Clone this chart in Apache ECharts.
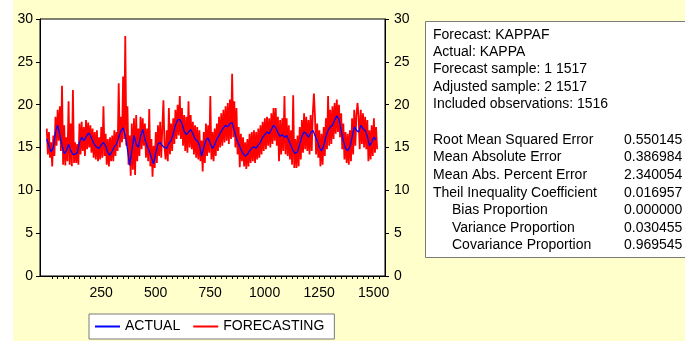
<!DOCTYPE html>
<html>
<head>
<meta charset="utf-8">
<script src="https://cdn.jsdelivr.net/npm/echarts@6/dist/echarts.min.js"></script>
<style>
  html, body { margin: 0; padding: 0; background: #fff; }
  #chart { width: 685px; height: 346px; }
</style>
</head>
<body>
<div id="chart"></div>
<script>
// observation spacing of the typed samples
const actualStep = 10
const forecastStep = 5

// ACTUAL (KAPPA), one value every 10 observations starting at obs 1
const actual = [
  16.0, 15.2, 14.5, 15.0, 16.8, 17.6, 16.5, 15.2, 14.3, 14.6,
  15.4, 14.6, 14.2, 14.2, 14.4, 15.6, 16.2, 15.8, 16.2, 16.7,
  16.4, 15.8, 15.3, 15.0, 14.9, 15.3, 15.6, 15.2, 14.4, 14.1,
  14.6, 15.1, 15.4, 16.2, 16.9, 17.3, 16.4, 14.8, 12.9, 14.6,
  16.4, 15.4, 15.0, 16.3, 17.1, 16.0, 15.2, 14.6, 13.8, 13.1,
  14.4, 15.4, 15.6, 15.2, 15.0, 14.9, 15.5, 15.8, 16.6, 17.6,
  18.2, 18.3, 17.8, 16.9, 16.5, 16.8, 17.1, 16.6, 16.0, 15.8,
  15.3, 14.0, 15.0, 15.9, 16.1, 15.4, 14.9, 15.3, 16.0, 16.4,
  16.9, 17.3, 17.6, 17.4, 17.8, 17.9, 17.0, 16.0, 15.4, 14.8,
  14.3, 14.0, 14.2, 14.6, 14.9, 15.1, 14.9, 15.3, 15.6, 16.2,
  16.5, 16.8, 16.6, 17.1, 17.6, 17.3, 16.7, 16.3, 16.5, 16.2,
  16.4, 15.8, 15.2, 14.6, 14.3, 14.5, 15.4, 16.3, 16.8, 16.6,
  16.2, 16.7, 17.0, 16.4, 15.8, 15.0, 14.6, 15.2, 16.3, 17.0,
  17.4, 17.6, 18.2, 18.7, 18.3, 17.0, 15.8, 14.9, 14.6, 15.1,
  16.2, 17.4, 17.0, 16.8, 17.6, 17.2, 17.0, 16.3, 15.2, 15.6,
  16.2, 15.9
]

// FORECASTING (KAPPAF), one value every 5 observations starting at obs 1
const forecasting = [
  17.2, 14.2, 16.8, 13.8, 15.6, 12.8, 16.4, 14.0, 18.6, 15.2,
  19.4, 15.8, 19.8, 14.6, 22.2, 13.0, 17.6, 12.9, 16.2, 13.4,
  20.4, 13.0, 17.8, 12.8, 21.7, 13.2, 15.6, 13.2, 15.4, 13.0,
  17.8, 14.2, 18.0, 14.6, 17.4, 14.0, 18.2, 14.8, 17.9, 15.0,
  17.6, 14.4, 17.2, 13.8, 16.8, 13.6, 17.0, 13.4, 16.2, 13.6,
  17.4, 13.8, 19.8, 14.0, 16.6, 13.0, 16.0, 12.8, 16.2, 13.4,
  16.4, 13.4, 17.0, 14.0, 16.8, 14.6, 22.5, 15.0, 18.6, 15.6,
  23.3, 16.0, 28.0, 15.2, 19.8, 13.0, 16.4, 11.7, 17.8, 12.4,
  18.4, 11.8, 18.8, 13.4, 17.2, 14.0, 18.6, 14.8, 18.4, 15.2,
  17.8, 13.8, 17.2, 13.4, 19.5, 12.8, 16.0, 11.6, 15.2, 12.6,
  16.8, 13.2, 17.6, 14.0, 18.0, 13.8, 17.4, 20.5, 15.0, 13.6,
  17.0, 13.4, 19.6, 14.2, 17.8, 14.6, 18.4, 15.4, 19.4, 16.0,
  20.0, 16.4, 21.0, 16.0, 19.6, 15.2, 18.8, 14.6, 18.6, 14.4,
  20.4, 15.0, 18.8, 14.8, 18.0, 14.2, 17.6, 13.8, 17.4, 13.6,
  17.0, 13.4, 15.8, 12.2, 16.8, 13.2, 17.8, 14.0, 17.6, 14.4,
  21.0, 13.6, 16.8, 13.4, 17.2, 14.0, 17.8, 14.6, 18.6, 15.0,
  19.0, 15.2, 19.4, 15.6, 19.8, 15.8, 20.2, 15.4, 20.6, 16.0,
  23.6, 16.2, 20.4, 15.0, 19.6, 14.2, 17.4, 12.7, 16.6, 13.4,
  16.2, 12.8, 15.6, 12.5, 16.0, 12.8, 16.6, 13.2, 16.8, 13.4,
  17.0, 13.2, 16.8, 13.6, 17.2, 13.8, 17.6, 14.2, 18.0, 14.6,
  18.4, 14.8, 18.6, 15.2, 18.4, 15.0, 19.0, 15.4, 19.6, 15.8,
  19.6, 15.2, 18.6, 13.4, 18.2, 14.2, 18.4, 14.6, 21.0, 14.2,
  18.4, 14.0, 17.6, 13.6, 17.0, 13.0, 21.1, 12.6, 16.0, 12.6,
  16.4, 12.8, 17.4, 13.6, 18.2, 14.4, 19.0, 14.8, 18.6, 14.6,
  18.2, 14.2, 18.8, 14.6, 19.0, 21.3, 18.6, 14.2, 17.8, 13.8,
  17.0, 12.8, 16.6, 13.0, 17.4, 14.0, 18.4, 14.8, 21.0, 15.2,
  19.4, 15.4, 19.8, 16.0, 20.2, 16.6, 20.6, 16.8, 20.0, 16.2,
  19.0, 14.8, 17.8, 13.6, 16.8, 13.2, 16.6, 13.0, 17.0, 13.4,
  18.4, 14.2, 19.4, 15.2, 18.8, 20.2, 18.6, 14.8, 19.4, 15.4,
  19.0, 15.0, 18.6, 14.8, 18.2, 13.4, 17.0, 13.6, 17.6, 14.0,
  18.4, 14.4, 17.4, 14.8
]

// axis labels
const xTickLabels = [250, 500, 750, 1000, 1250, 1500]
const yTickLabels = [0, 5, 10, 15, 20, 25, 30]
const seriesNames = ['ACTUAL', 'FORECASTING']

// forecast evaluation box
const headerLines = [
  'Forecast: KAPPAF',
  'Actual: KAPPA',
  'Forecast sample: 1 1517',
  'Adjusted sample: 2 1517',
  'Included observations: 1516'
]
const statNames = [
  'Root Mean Squared Error',
  'Mean Absolute Error',
  'Mean Abs. Percent Error',
  'Theil Inequality Coefficient',
  'Bias Proportion',
  'Variance Proportion',
  'Covariance Proportion'
]
const statIndented = [false, false, false, false, true, true, true]
const statValues = ['0.550145', '0.386984', '2.340054', '0.016957', '0.000000', '0.030455', '0.969545']

const font = '"Liberation Sans", Arial, sans-serif'

const actualData = actual.map((v, i) => [1 + i * actualStep, v])
const forecastData = forecasting.map((v, i) => [1 + i * forecastStep, v])

// minor ticks every 25 observations
const xMinorTicks = []
for (let t = 25; t <= 1525; t += 25) xMinorTicks.push(t)

const graphics = [
  { type: 'rect', z: -10, shape: { x: 13, y: 0, width: 672, height: 341 }, style: { fill: '#FFFFCC' } },
  { type: 'rect', shape: { x: 425.5, y: 21.5, width: 270, height: 236 }, style: { fill: '#fff', stroke: '#7a7a7a', lineWidth: 1 } }
]
headerLines.forEach((t, i) => {
  graphics.push({
    type: 'text', x: 433, y: 34.7 + i * 17.4,
    style: { text: t, font: '14px ' + font, fill: '#000', textVerticalAlign: 'middle' }
  })
})
statNames.forEach((t, i) => {
  const y = 140 + i * 17.6
  graphics.push({
    type: 'text', x: statIndented[i] ? 452 : 433, y: y,
    style: { text: t, font: '14px ' + font, fill: '#000', textVerticalAlign: 'middle' }
  })
  graphics.push({
    type: 'text', x: 624, y: y,
    style: { text: statValues[i], font: '14px ' + font, fill: '#000', textVerticalAlign: 'middle' }
  })
})

const yAxisBase = {
  type: 'value',
  min: 0,
  max: 30,
  interval: 5,
  splitLine: { show: false },
  axisLine: { show: true, onZero: false, lineStyle: { color: '#000', width: 1 } },
  axisTick: { show: true, length: 4, lineStyle: { color: '#000' } },
  axisLabel: { color: '#000', fontSize: 14, fontFamily: font, margin: 7,
    formatter: v => yTickLabels.includes(v) ? String(v) : '' }
}

const chart = echarts.init(document.getElementById('chart'), null, { renderer: 'canvas' })
chart.setOption({
  animation: false,
  backgroundColor: '#fff',
  grid: {
    left: 40, top: 19, width: 345, height: 257,
    show: true, backgroundColor: '#fff', borderColor: '#000', borderWidth: 1
  },
  xAxis: {
    type: 'value',
    min: -30,
    max: 1552,
    splitLine: { show: false },
    axisLine: { show: true, onZero: false, lineStyle: { color: '#000', width: 1 } },
    axisTick: { show: true, length: 3, customValues: xMinorTicks, lineStyle: { color: '#000' } },
    axisLabel: { color: '#000', fontSize: 14, fontFamily: font, margin: 10,
      customValues: xTickLabels, formatter: v => String(v) }
  },
  yAxis: [
    Object.assign({}, yAxisBase, { position: 'left' }),
    Object.assign({}, yAxisBase, { position: 'right', axisLabel: Object.assign({}, yAxisBase.axisLabel, { margin: 9 }) })
  ],
  legend: {
    left: 89, top: 314,
    data: seriesNames,
    icon: 'rect',
    backgroundColor: '#fff',
    borderColor: '#7a7a7a',
    borderWidth: 1,
    padding: [5, 10, 5, 6],
    itemWidth: 25,
    itemHeight: 2,
    itemGap: 13,
    textStyle: { color: '#000', fontSize: 14, fontFamily: font, lineHeight: 15 }
  },
  graphic: graphics,
  series: [
    {
      name: seriesNames[1],
      type: 'line',
      data: forecastData,
      showSymbol: false,
      symbol: 'none',
      silent: true,
      z: 2,
      color: '#FF0000',
      lineStyle: { color: '#FF0000', width: 1.8 }
    },
    {
      name: seriesNames[0],
      type: 'line',
      data: actualData,
      showSymbol: false,
      symbol: 'none',
      silent: true,
      z: 3,
      color: '#0000FF',
      lineStyle: { color: '#0000FF', width: 1.3 }
    }
  ]
})
</script>
</body>
</html>
